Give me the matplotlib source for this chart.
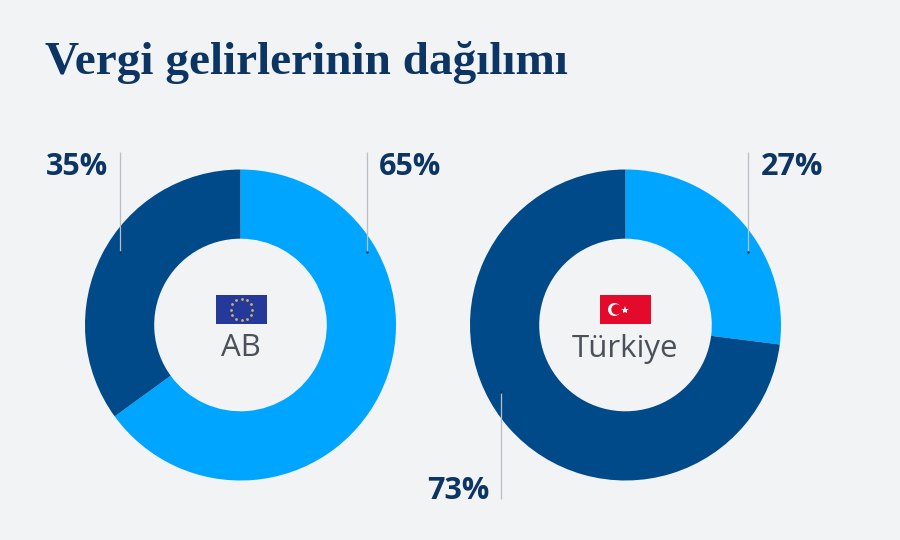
import numpy as np
import matplotlib
matplotlib.use("Agg")
import matplotlib.pyplot as plt
from matplotlib.patches import Rectangle, Circle

title = "Vergi gelirlerinin dağılımı"
regions = ["AB", "Türkiye"]
light_share = [65, 27]
dark_share = [35, 73]

BG = "#f1f3f5"
LIGHT = "#00a5ff"
DARK = "#004a8a"
NAVY = "#0c3563"
W, H = 900, 540

fig = plt.figure(figsize=(9, 5.4), dpi=100, facecolor=BG)

# overlay in pixel coords for text, leader lines, flags
bg = fig.add_axes([0, 0, 1, 1], zorder=3)
bg.set_xlim(0, W)
bg.set_ylim(H, 0)
bg.axis("off")
bg.patch.set_alpha(0)

centers = [240.5, 625.5]
cy, r = 325, 155.5
for cx, a, b in zip(centers, light_share, dark_share):
    ax = fig.add_axes([(cx - r) / W, 1 - (cy + r) / H, 2 * r / W, 2 * r / H], zorder=1)
    ax.pie([a, b], colors=[LIGHT, DARK], startangle=90, counterclock=False, radius=1,
           wedgeprops=dict(width=0.445, linewidth=0))
    ax.set_xlim(-1, 1)
    ax.set_ylim(-1, 1)

bg.text(45, 74, title, family="Liberation Serif", weight="bold", fontsize=34,
        color=NAVY, va="baseline", ha="left")

# x, line top, line bottom, label x, label y, label align, label
leaders = [
    (120, 152, 252, 108, 167, "right", f"{dark_share[0]}%"),
    (367, 152, 252, 379, 167, "left", f"{light_share[0]}%"),
    (748, 152, 252, 761, 167, "left", f"{light_share[1]}%"),
    (501, 392, 499, 489, 491, "right", f"{dark_share[1]}%"),
]
for x, y0, y1, tx, ty, al, lab in leaders:
    bg.plot([x, x], [y0, y1], color="#b9bec4", lw=0.9, solid_capstyle="butt")
    marker_y = y1 if y1 < 300 else y0
    bg.plot([x], [marker_y], "o", ms=1.8, color=NAVY, mew=0)
    bg.text(tx, ty, lab, family="Open Sans", weight="bold", fontsize=22, color=NAVY,
            ha=al, va="center")

# EU flag
bg.add_patch(Rectangle((216, 295), 51, 29, color="#25399b", lw=0))
ang = np.arange(12) * np.pi / 6
bg.scatter(241.5 + 10.5 * np.cos(ang), 309.5 + 10.5 * np.sin(ang), s=4, color="#c9b66a", lw=0)

# Turkish flag
bg.add_patch(Rectangle((600, 295), 51, 29, color="#e30a2c", lw=0))
bg.add_patch(Circle((614.5, 309.5), 6.5, color="white", lw=0))
bg.add_patch(Circle((616.5, 309.5), 5.2, color="#e30a2c", lw=0))
bg.plot([625], [309.5], marker="*", ms=6, color="white", mew=0)

for cx, name in zip(centers, regions):
    bg.text(cx, 348.5, name, family="Open Sans", fontsize=22.5, color="#4b5159",
            ha="center", va="center")

fig.savefig("out.png", dpi=100, facecolor=BG)
